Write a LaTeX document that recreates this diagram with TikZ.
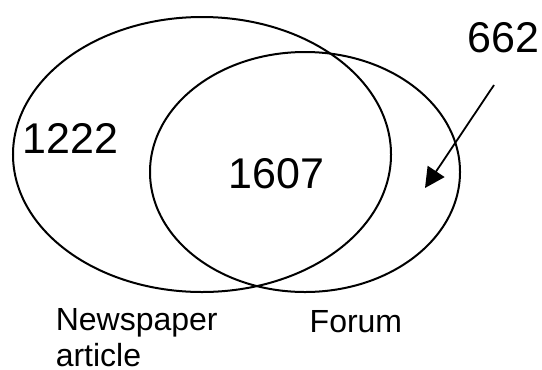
\documentclass[tikz,border=0pt]{standalone}
\usepackage{fontspec}
\setmainfont{Liberation Sans}
\usetikzlibrary{arrows.meta, positioning, shapes.geometric}
\tikzset{
    setline/.style={draw, ellipse, line width=2bp, inner sep=0pt},
    bignum/.style={inner sep=0pt, font=\fontsize{43bp}{48bp}\selectfont},
    setname/.style={inner sep=0pt, align=left, font=\fontsize{32bp}{36bp}\selectfont},
    pointer/.style={line width=1.8bp, -{Triangle[length=20bp, width=20bp]}}
}
\begin{document}
\begin{tikzpicture}[x=1bp, y=-1bp]
    \useasboundingbox (0,0) rectangle (542,369);
    \coordinate (c1) at (202, 154.5);
    \coordinate (c2) at (305, 172);
    \coordinate (start) at (494, 85);
    \coordinate (tip) at (425, 188);
    \node[setline, minimum width=378bp, minimum height=275bp] (newspaper) at (c1) {};
    \node[setline, minimum width=310bp, minimum height=240bp] (forum) at (c2) {};
    \node[bignum, anchor=base west] (only1) at (22.3, 153) {1222};
    \node[bignum, anchor=base west] (both) at (228.3, 188) {1607};
    \node[bignum, anchor=base west] (only2) at (467, 52) {662};
    \node[setname, anchor=base west] (newsname) at (55.6, 366) {Newspaper\\article};
    \node[setname, anchor=base west] (forumname) at (309.5, 332) {Forum};
    \draw[pointer] (start) -- (tip);
\end{tikzpicture}
\end{document}
